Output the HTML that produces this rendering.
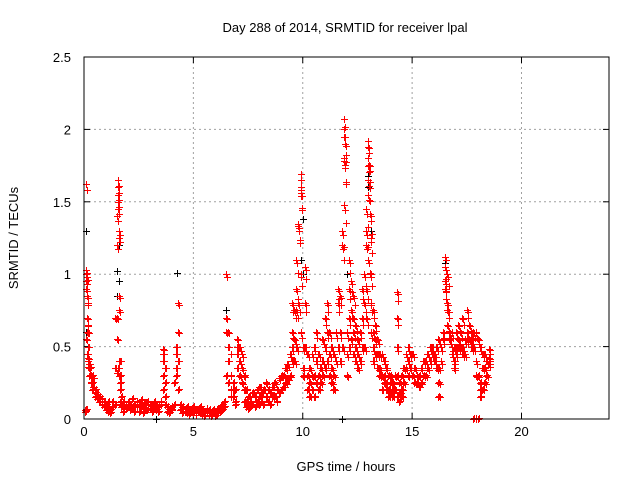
<!DOCTYPE html>
<html><head><meta charset="utf-8"><style>
body{margin:0;background:#fff;}
svg{display:block;font-family:"Liberation Sans",sans-serif;}
</style></head><body>
<svg id="chart" width="640" height="480">
<rect width="640" height="480" fill="#fff"/>
<text x="345" y="32" font-size="13" text-anchor="middle" fill="#000">Day 288 of 2014, SRMTID for receiver lpal</text>
<text x="346" y="471" font-size="13" text-anchor="middle" fill="#000">GPS time / hours</text>
<text x="18" y="238" font-size="13" text-anchor="middle" fill="#000" transform="rotate(-90 18 238)">SRMTID / TECUs</text>
<g id="grid"></g>
<g id="axes"></g>
<g id="black"></g>
<g id="red"></g>
<rect x="84" y="57" width="525" height="362" fill="none" stroke="#000" stroke-width="1"/>
</svg>
<script>
const xTicks=[0,5,10,15,20];
const yTicks=[0,0.5,1,1.5,2,2.5];
const yTickLabels=["0","0.5","1","1.5","2","2.5"];
const redT=[0.03,0.08,0.1,0.13,0.16,0.2,0.25,0.3,0.35,0.4,0.5,0.6,0.7,0.8,0.9,1.0,1.1,1.2,1.3,1.4,1.5,1.55,1.6,1.65,1.7,1.8,1.9,2.0,2.1,2.2,2.3,2.4,2.5,2.6,2.7,2.8,2.9,3.0,3.1,3.2,3.3,3.4,3.5,3.6,3.7,3.8,3.9,4.0,4.1,4.2,4.3,4.4,4.5,4.6,4.7,4.8,4.9,5.0,5.1,5.2,5.3,5.4,5.5,5.6,5.7,5.8,5.9,6.0,6.1,6.2,6.3,6.4,6.5,6.6,6.7,6.8,6.9,7.0,7.1,7.2,7.3,7.4,7.5,7.6,7.7,7.8,7.9,8.0,8.1,8.2,8.3,8.4,8.5,8.6,8.7,8.8,8.9,9.0,9.1,9.2,9.3,9.4,9.5,9.6,9.7,9.8,9.9,10.0,10.1,10.2,10.3,10.4,10.5,10.6,10.7,10.8,10.9,11.0,11.1,11.2,11.3,11.4,11.5,11.6,11.7,11.8,11.9,12.0,12.1,12.2,12.3,12.4,12.5,12.6,12.7,12.8,12.9,13.0,13.1,13.2,13.3,13.4,13.5,13.6,13.7,13.8,13.9,14.0,14.1,14.2,14.3,14.4,14.5,14.6,14.7,14.8,14.9,15.0,15.1,15.2,15.3,15.4,15.5,15.6,15.7,15.8,15.9,16.0,16.1,16.2,16.3,16.4,16.5,16.6,16.7,16.8,16.9,17.0,17.1,17.2,17.3,17.4,17.5,17.6,17.7,17.8,17.9,18.0,18.1,18.2,18.3,18.4,18.5];
const redV=[[0.05,0.06],[1.62,0.06],[1.03,1.0,0.95,0.9,0.55],[0.98,0.85,0.7,0.6,0.45],[0.8,0.65,0.5,0.4],[0.6,0.5,0.42,0.36],[0.38,0.35,0.3],[0.36,0.3,0.25],[0.3,0.25,0.2],[0.28,0.22],[0.2,0.18,0.15],[0.17,0.14],[0.15,0.12],[0.14,0.1],[0.12,0.08],[0.1,0.06],[0.08,0.05,0.12],[0.06,0.04],[0.08,0.12],[0.7,0.35,0.1],[1.4,1.2,0.7,0.55,0.32],[1.65,1.6,1.55,1.5,1.45,0.35],[1.3,1.25,0.85,0.75,0.4,0.3],[0.4,0.3,0.25,0.2,0.12],[0.15,0.1,0.08],[0.12,0.08,0.05],[0.1,0.07],[0.12,0.08],[0.1,0.06],[0.14,0.08],[0.1,0.05],[0.12,0.08],[0.09,0.05],[0.13,0.08],[0.1,0.04],[0.11,0.07],[0.12,0.06],[0.1,0.07],[0.09,0.05],[0.12,0.08],[0.1,0.06],[0.08,0.05],[0.1,0.12],[0.48,0.45,0.4,0.3,0.2],[0.35,0.25,0.15,0.1],[0.08,0.05],[0.07,0.04],[0.08,0.06],[0.25,0.1],[0.5,0.45,0.35,0.3],[0.8,0.6,0.4,0.2],[0.1,0.06],[0.08,0.04],[0.07,0.05],[0.08,0.04],[0.06,0.03],[0.07,0.05],[0.08,0.04],[0.06,0.03],[0.07,0.05],[0.08,0.04],[0.06,0.03],[0.05,0.02],[0.07,0.04],[0.06,0.03],[0.05,0.02],[0.06,0.04],[0.05,0.02],[0.07,0.03],[0.08,0.05],[0.1,0.06],[0.12,0.08],[1.0,0.7,0.6,0.3],[0.6,0.5,0.4,0.25],[0.45,0.3,0.2,0.15],[0.25,0.2,0.15],[0.2,0.12,0.1],[0.55,0.5,0.45,0.35],[0.5,0.4,0.3],[0.45,0.35,0.25],[0.3,0.2,0.12],[0.2,0.12,0.08],[0.15,0.1,0.07],[0.12,0.08],[0.18,0.1],[0.15,0.08],[0.2,0.12],[0.22,0.15,0.1],[0.18,0.12],[0.2,0.1],[0.25,0.15],[0.2,0.12],[0.18,0.1],[0.22,0.15],[0.25,0.15],[0.2,0.12],[0.28,0.18],[0.3,0.2],[0.3,0.22],[0.35,0.25],[0.38,0.28],[0.45,0.3],[0.8,0.6,0.5,0.4],[0.75,0.55,0.4],[1.1,0.9,0.75,0.5],[1.35,1.33,0.8],[1.69,1.6,1.58,1.0,0.6],[0.5,0.35,0.3],[1.05,0.8,0.5],[0.45,0.3,0.2],[0.35,0.25,0.15],[0.45,0.3,0.2],[0.5,0.3,0.15],[0.6,0.4,0.25],[0.45,0.3,0.2],[0.35,0.25],[0.55,0.4,0.3],[0.7,0.5,0.35],[0.8,0.6,0.4],[0.6,0.45,0.3],[0.5,0.35,0.25],[0.45,0.3,0.2],[0.6,0.4],[0.9,0.8,0.5],[0.85,0.6,0.4],[1.3,1.2,0.5],[2.07,2.0,1.95,1.8,1.78,1.48],[0.6,0.45,0.3],[1.1,0.9,0.7,0.5],[0.95,0.75,0.55],[0.85,0.7,0.6,0.45],[0.65,0.5,0.4],[0.55,0.45,0.35],[0.6,0.4],[0.9,0.7,0.5],[1.0,0.8,0.5],[1.45,1.3,1.2,0.9,0.7],[1.92,1.88,1.8,1.75,1.65,1.55,1.1],[1.4,1.25,1.0,0.8,0.6],[0.75,0.6,0.5,0.4],[0.65,0.55,0.45],[0.55,0.45,0.35],[0.45,0.35,0.3],[0.45,0.3,0.2],[0.4,0.3,0.25],[0.35,0.25,0.2],[0.3,0.2,0.15],[0.3,0.25,0.18],[0.25,0.2,0.15],[0.3,0.2],[0.88,0.7,0.5,0.3,0.15],[0.25,0.18,0.12],[0.3,0.2,0.15],[0.35,0.25],[0.45,0.35],[0.5,0.4,0.3],[0.45,0.35],[0.45,0.3],[0.35,0.25],[0.3,0.25],[0.3,0.22],[0.35,0.25],[0.4,0.3],[0.4,0.3],[0.45,0.35],[0.5,0.4],[0.5,0.45],[0.45,0.4],[0.5,0.35],[0.55,0.35,0.25,0.15],[0.5,0.4],[0.6,0.55],[1.05,1.12,0.95,0.9],[1.0,0.8,0.75,0.65],[0.6,0.55],[0.6,0.5,0.45],[0.5,0.4,0.35],[0.6,0.5,0.45],[0.65,0.55,0.5],[0.6,0.5],[0.7,0.5,0.45],[0.55,0.45],[0.75,0.6,0.55],[0.65,0.55],[0.55,0.6,0.5],[0.6,0.5,0.0],[0.6,0.4,0.3,0.0],[0.55,0.3,0.0],[0.5,0.25,0.2,0.15],[0.45,0.35,0.2],[0.45,0.35,0.25],[0.4,0.3],[0.48,0.42,0.38]];
const blackT=[0.08,0.1,1.5,1.6,3.3,4.25,6.5,9.9,10.0,11.8,12.0,13.0,13.1,16.5,17.8];
const blackV=[[1.3,0.95],[0.9,0.6],[1.02,0.85],[1.2,0.95],[0.0],[1.01],[0.75],[1.1],[1.38,1.0],[0.0],[1.0],[1.68,1.6],[1.3],[1.08],[0.0]];

const X0=84,X1=609,Y0=419,Y1=57;
function xs(t){return X0+(t/24)*(X1-X0);}
function ys(v){return Y0-(v/2.5)*(Y0-Y1);}
const NS="http://www.w3.org/2000/svg";
function mk(tag,attrs,parent){const e=document.createElementNS(NS,tag);for(const k in attrs)e.setAttribute(k,attrs[k]);parent.appendChild(e);return e;}
const grid=document.getElementById('grid'),axes=document.getElementById('axes');
xTicks.forEach((t,i)=>{
  const x=xs(t);
  if(t>0){const g=mk('line',{x1:x,y1:Y0,x2:x,y2:Y1,stroke:'#a0a0a0','stroke-dasharray':'2,3'},grid);
  
  }
  mk('line',{x1:x,y1:Y0,x2:x,y2:Y0-6,stroke:'#000'},axes);
  mk('line',{x1:x,y1:Y1,x2:x,y2:Y1+6,stroke:'#000'},axes);
  const l=mk('text',{x:x,y:Y0+17,'font-size':13,'text-anchor':'middle'},axes);
  l.textContent=String(t);
  
  
});
yTicks.forEach((v,i)=>{
  const y=ys(v);
  if(v>0&&v<2.5){const g=mk('line',{x1:X0,y1:y,x2:X1,y2:y,stroke:'#a0a0a0','stroke-dasharray':'2,3'},grid);
  
  }
  mk('line',{x1:X0,y1:y,x2:X0+6,y2:y,stroke:'#000'},axes);
  mk('line',{x1:X1,y1:y,x2:X1-6,y2:y,stroke:'#000'},axes);
  const l=mk('text',{x:X0-13,y:y+5,'font-size':13,'text-anchor':'end'},axes);
  l.textContent=yTickLabels[i];
  
  
});
function plus(parent,t,v,col){
  const x=Math.round(xs(t))+0.5,y=Math.round(ys(v))+0.5;
  const p=mk('path',{d:`M${x-3.5} ${y}H${x+3.5}M${x} ${y-3.5}V${y+3.5}`,stroke:col,'stroke-width':1,fill:'none'},parent);
  
  
}
const blk=document.getElementById('black'),red=document.getElementById('red');
blackT.forEach((t,i)=>blackV[i].forEach(v=>plus(blk,t,v,'#000')));
redT.forEach((t,i)=>redV[i].forEach(v=>{
  plus(red,t,v,'#ff0000');
  plus(red,t+0.04,v*0.97+0.01,'#ff0000');
  if(v>0.12&&t>7) plus(red,t+0.07,v*0.9+0.02,'#ff0000');
}));
</script>
</body></html>
